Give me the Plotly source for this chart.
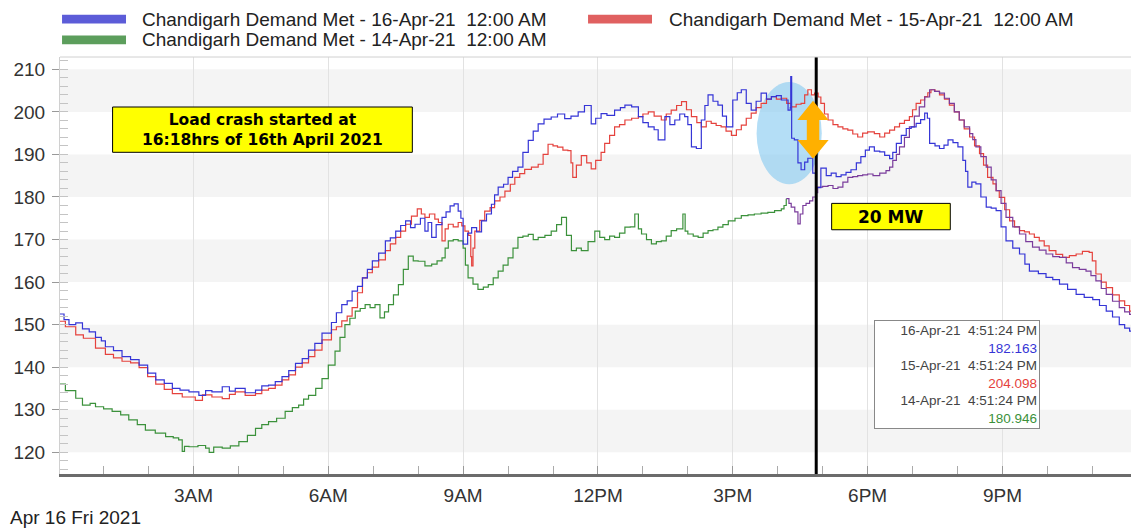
import pandas as pd
import plotly.graph_objects as go

DAY = pd.Timestamp('2021-04-16')

# hours after midnight
hours_16apr = [
    0.00, 0.12, 0.23, 0.38, 0.53, 0.68, 0.82, 0.95, 1.04, 1.22,
    1.41, 1.60, 1.79, 1.98, 2.16, 2.35, 2.53, 2.70, 2.90, 3.12,
    3.27, 3.41, 3.64, 3.80, 3.93, 4.15, 4.38, 4.52, 4.67, 4.82,
    4.97, 5.12, 5.27, 5.42, 5.56, 5.70, 5.86, 6.07, 6.18, 6.30,
    6.42, 6.53, 6.65, 6.76, 6.87, 6.98, 7.12, 7.27, 7.38, 7.50,
    7.61, 7.72, 7.83, 7.93, 8.05, 8.15, 8.22, 8.30, 8.40, 8.53,
    8.62, 8.71, 8.80, 8.89, 8.95, 9.00, 9.10, 9.19, 9.30, 9.41,
    9.52, 9.63, 9.70, 9.78, 9.90, 10.00, 10.10, 10.22, 10.33, 10.45,
    10.56, 10.67, 10.80, 10.96, 11.10, 11.26, 11.40, 11.56, 11.70, 11.85,
    11.95, 12.07, 12.20, 12.37, 12.50, 12.60, 12.75, 12.90, 13.00, 13.12,
    13.25, 13.34, 13.49, 13.60, 13.71, 13.82, 13.93, 14.00, 14.08, 14.19,
    14.30, 14.38, 14.45, 14.56, 14.67, 14.77, 14.86, 15.00, 15.10, 15.19,
    15.30, 15.41, 15.52, 15.63, 15.75, 15.86, 15.97, 16.08, 16.23, 16.28,
    16.29, 16.31, 16.37, 16.45, 16.52, 16.60, 16.67, 16.78, 16.85, 16.96,
    17.08, 17.19, 17.30, 17.41, 17.52, 17.63, 17.75, 17.85, 17.95, 18.04,
    18.15, 18.27, 18.38, 18.49, 18.56, 18.64, 18.75, 18.86, 18.97, 19.08,
    19.18, 19.27, 19.33, 19.38, 19.50, 19.60, 19.70, 19.79, 19.90, 20.01,
    20.12, 20.18, 20.23, 20.32, 20.41, 20.52, 20.64, 20.75, 20.86, 20.97,
    21.08, 21.23, 21.38, 21.50, 21.60, 21.80, 21.97, 22.12, 22.27, 22.45,
    22.64, 22.82, 23.01, 23.16, 23.31, 23.45, 23.60, 23.72, 23.83, 23.92,
    24.00,
]
demand_16apr = [
    152.5, 151.2, 150.0, 150.4, 149.0, 148.3, 147.0, 146.2, 144.8, 143.9,
    142.5, 141.8, 140.5, 138.6, 137.0, 136.2, 135.0, 134.6, 134.2, 133.4,
    134.5, 134.2, 135.4, 134.4, 135.0, 134.0, 134.6, 135.6, 135.8, 136.6,
    137.8, 139.2, 140.9, 142.0, 144.0, 145.6, 148.0, 150.5, 152.8, 154.7,
    155.6, 157.9, 159.0, 161.0, 163.0, 165.0, 166.8, 169.7, 170.4, 172.0,
    173.3, 174.4, 172.8, 173.6, 175.0, 172.0, 174.0, 170.5, 173.5, 175.2,
    176.5, 177.9, 178.4, 176.7, 175.0, 168.9, 171.5, 172.8, 171.8, 174.4,
    176.0, 178.3, 180.5, 182.3, 183.0, 184.6, 186.0, 187.0, 190.5, 193.3,
    195.5, 197.2, 198.3, 198.8, 199.5, 198.4, 199.0, 200.0, 201.5, 197.2,
    198.5, 199.6, 199.2, 200.4, 201.0, 201.6, 201.2, 198.9, 197.5, 196.5,
    195.8, 193.4, 198.9, 197.0, 198.1, 199.5, 198.9, 197.0, 191.8, 191.4,
    198.1, 201.5, 204.0, 202.5, 201.6, 199.0, 196.5, 202.8, 204.5, 205.2,
    202.0, 200.4, 202.5, 204.4, 203.0, 203.6, 203.8, 202.8, 200.4, 201.0,
    208.3, 193.8, 193.4, 188.0, 186.4, 188.2, 189.1, 185.6, 182.2, 186.8,
    185.0, 185.6, 184.8, 185.2, 185.8, 186.4, 188.0, 189.5, 191.0, 191.8,
    190.8, 190.6, 189.8, 189.0, 190.5, 192.6, 194.5, 196.1, 196.5, 197.3,
    198.2, 199.7, 198.5, 192.6, 192.0, 191.4, 192.2, 193.4, 192.8, 191.8,
    188.6, 186.0, 182.3, 183.5, 183.1, 180.0, 177.6, 177.4, 176.8, 173.0,
    169.7, 168.0, 166.6, 164.2, 162.6, 162.0, 161.1, 160.6, 159.5, 158.3,
    157.1, 156.4, 155.9, 154.5, 153.2, 151.8, 150.0, 149.2, 148.5, 146.5,
    144.5,
]

hours_15apr = [
    0.00, 0.15, 0.38, 0.55, 0.82, 1.04, 1.22, 1.41, 1.60, 1.79,
    1.98, 2.16, 2.35, 2.53, 2.75, 3.04, 3.20, 3.41, 3.64, 3.80,
    3.93, 4.15, 4.38, 4.52, 4.67, 4.82, 4.97, 5.12, 5.27, 5.42,
    5.56, 5.70, 5.86, 6.07, 6.18, 6.30, 6.42, 6.53, 6.65, 6.76,
    6.87, 6.98, 7.12, 7.27, 7.38, 7.50, 7.61, 7.72, 7.85, 7.98,
    8.07, 8.15, 8.25, 8.37, 8.45, 8.53, 8.60, 8.67, 8.78, 8.89,
    8.97, 9.04, 9.12, 9.17, 9.19, 9.22, 9.26, 9.37, 9.48, 9.60,
    9.70, 9.82, 9.93, 10.05, 10.15, 10.26, 10.37, 10.52, 10.67, 10.78,
    10.89, 11.00, 11.10, 11.22, 11.33, 11.40, 11.44, 11.52, 11.63, 11.75,
    11.85, 11.95, 12.07, 12.15, 12.26, 12.37, 12.48, 12.60, 12.75, 12.90,
    13.00, 13.12, 13.25, 13.41, 13.52, 13.63, 13.75, 13.86, 13.97, 14.08,
    14.20, 14.30, 14.41, 14.52, 14.63, 14.74, 14.85, 14.97, 15.08, 15.19,
    15.30, 15.41, 15.52, 15.63, 15.75, 15.86, 15.97, 16.08, 16.20, 16.30,
    16.41, 16.52, 16.60, 16.67, 16.75, 16.82, 16.90, 16.96, 17.04, 17.12,
    17.23, 17.34, 17.45, 17.56, 17.67, 17.78, 17.89, 18.00, 18.15, 18.27,
    18.38, 18.49, 18.60, 18.71, 18.82, 18.93, 19.00, 19.08, 19.18, 19.27,
    19.34, 19.41, 19.50, 19.60, 19.71, 19.82, 19.93, 20.04, 20.15, 20.27,
    20.38, 20.49, 20.58, 20.67, 20.79, 20.86, 20.93, 21.05, 21.16, 21.27,
    21.38, 21.49, 21.60, 21.71, 21.82, 21.93, 22.04, 22.19, 22.34, 22.49,
    22.64, 22.78, 22.93, 23.00, 23.08, 23.20, 23.31, 23.45, 23.60, 23.72,
    23.83, 23.92, 24.00,
]
demand_15apr = [
    150.8, 149.5, 147.6, 146.8, 144.5, 143.0, 142.2, 141.4, 141.0, 139.9,
    137.8, 136.0, 134.8, 133.8, 133.0, 132.2, 133.5, 133.0, 132.6, 133.6,
    134.2, 133.4, 133.8, 134.6, 135.0, 135.8, 137.0, 138.2, 140.0, 141.0,
    142.5, 144.0, 146.4, 148.8, 149.5, 150.9, 152.0, 154.0, 157.5, 161.0,
    162.2, 163.5, 165.2, 167.4, 169.0, 170.5, 172.0, 173.6, 175.5, 177.2,
    176.0, 175.2, 176.0, 174.8, 174.0, 169.7, 172.5, 173.6, 173.0, 174.0,
    173.2, 172.0, 171.0, 166.0, 163.8, 168.0, 172.0, 174.5, 176.7, 177.5,
    179.1, 180.0, 181.4, 183.0, 184.6, 185.5, 186.5, 187.0, 187.7, 190.0,
    192.4, 192.0, 191.7, 191.0, 190.9, 188.0, 184.6, 187.5, 189.7, 188.0,
    186.6, 188.6, 190.5, 192.6, 194.5, 196.5, 197.0, 198.1, 198.5, 198.9,
    199.5, 200.0, 199.0, 198.1, 199.5, 200.4, 201.5, 202.4, 200.5, 198.9,
    197.5, 196.5, 197.8, 197.3, 196.8, 196.5, 195.5, 194.5, 195.8, 196.9,
    198.5, 199.7, 201.0, 202.0, 203.0, 203.6, 203.0, 203.2, 202.0, 201.2,
    201.8, 202.0, 204.0, 205.2, 204.0, 204.4, 203.5, 202.0, 199.5, 198.1,
    197.0, 196.5, 196.0, 195.7, 194.8, 194.1, 195.0, 195.3, 194.9, 194.1,
    195.0, 195.7, 196.5, 197.3, 198.0, 198.9, 200.5, 202.0, 202.8, 203.6,
    204.5, 205.2, 204.8, 204.0, 203.0, 201.6, 200.0, 198.1, 196.0, 194.1,
    192.0, 190.2, 187.5, 184.6, 183.1, 181.5, 179.9, 177.0, 174.4, 173.0,
    172.1, 171.8, 171.3, 170.5, 169.7, 168.5, 167.4, 166.5, 165.8, 166.2,
    166.6, 167.2, 167.0, 165.0, 161.9, 160.0, 158.7, 157.0, 155.6, 154.5,
    153.2, 152.0, 151.5,
]

hours_14apr = [
    0.00, 0.15, 0.38, 0.53, 0.70, 0.82, 1.00, 1.19, 1.38, 1.56,
    1.75, 1.93, 2.15, 2.38, 2.55, 2.67, 2.75, 2.80, 2.90, 3.10,
    3.27, 3.35, 3.45, 3.64, 3.82, 4.01, 4.20, 4.38, 4.52, 4.67,
    4.85, 5.04, 5.20, 5.34, 5.45, 5.56, 5.72, 5.86, 6.00, 6.15,
    6.26, 6.37, 6.48, 6.60, 6.71, 6.82, 6.93, 7.04, 7.15, 7.25,
    7.34, 7.45, 7.56, 7.67, 7.78, 7.89, 8.00, 8.15, 8.30, 8.42,
    8.53, 8.60, 8.67, 8.78, 8.89, 9.00, 9.05, 9.11, 9.22, 9.33,
    9.45, 9.56, 9.67, 9.78, 9.89, 10.00, 10.11, 10.22, 10.33, 10.45,
    10.56, 10.67, 10.82, 10.96, 11.08, 11.19, 11.30, 11.41, 11.52, 11.63,
    11.78, 11.93, 12.04, 12.15, 12.26, 12.37, 12.48, 12.60, 12.72, 12.82,
    12.90, 12.97, 13.08, 13.19, 13.30, 13.41, 13.52, 13.63, 13.75, 13.89,
    13.94, 14.00, 14.12, 14.23, 14.34, 14.45, 14.56, 14.67, 14.78, 14.90,
    15.05, 15.19, 15.34, 15.48, 15.63, 15.78, 15.93, 16.08, 16.14, 16.19,
    16.25, 16.30, 16.38, 16.45, 16.50, 16.56, 16.63, 16.71, 16.78, 16.85,
    16.89, 17.00, 17.12, 17.23, 17.34, 17.45, 17.56, 17.67, 17.78, 17.89,
    18.00, 18.12, 18.27, 18.41, 18.49, 18.56, 18.64, 18.71, 18.82, 18.93,
    19.04, 19.15, 19.27, 19.38, 19.49, 19.60, 19.71, 19.82, 19.93, 20.04,
    20.15, 20.27, 20.34, 20.41, 20.52, 20.64, 20.75, 20.86, 20.97, 21.08,
    21.23, 21.38, 21.52, 21.67, 21.82, 21.97, 22.12, 22.27, 22.42, 22.56,
    22.71, 22.86, 22.97, 23.08, 23.20, 23.31, 23.45, 23.60, 23.72, 23.83,
    24.00,
]
demand_14apr = [
    136.0, 134.5, 132.7, 131.1, 131.5, 130.7, 130.2, 129.6, 128.8, 127.6,
    126.5, 125.2, 124.5, 123.7, 123.4, 122.9, 120.2, 121.4, 121.3, 121.6,
    121.0, 120.0, 121.2, 121.0, 121.5, 122.5, 124.0, 125.6, 126.5, 127.2,
    128.0, 129.6, 130.5, 131.1, 132.5, 133.4, 135.0, 137.3, 140.5, 143.8,
    147.0, 150.0, 151.5, 153.2, 153.8, 154.7, 154.0, 154.7, 151.6, 153.0,
    154.7, 157.0, 159.4, 163.0, 166.1, 165.0, 164.9, 163.8, 164.2, 165.0,
    165.7, 168.0, 169.7, 170.0, 169.7, 168.0, 164.0, 161.0, 159.5, 158.3,
    158.8, 159.4, 161.0, 162.6, 164.0, 165.7, 168.0, 170.5, 170.8, 171.2,
    170.0, 170.5, 171.0, 172.0, 173.5, 175.2, 171.0, 167.4, 168.0, 167.4,
    169.5, 172.0, 170.5, 170.0, 170.8, 170.5, 171.5, 172.9, 173.0, 176.0,
    172.5, 171.3, 170.0, 169.0, 169.5, 169.7, 170.8, 172.1, 172.5, 176.0,
    172.0, 171.3, 170.8, 170.5, 171.5, 172.1, 172.3, 172.9, 173.5, 174.4,
    175.0, 175.6, 175.8, 176.0, 176.2, 176.4, 176.8, 177.2, 178.0, 179.6,
    178.5, 177.6, 176.5, 173.7, 176.0, 178.0, 178.5, 179.1, 180.0, 181.0,
    182.3, 182.5, 182.7, 182.0, 182.3, 183.5, 184.6, 184.8, 185.0, 185.2,
    185.4, 185.0, 185.6, 186.2, 187.0, 188.6, 190.0, 191.8, 194.0, 196.5,
    199.0, 201.2, 203.5, 205.2, 204.8, 204.4, 203.2, 202.0, 200.0, 198.1,
    196.5, 194.9, 193.5, 191.8, 189.5, 187.0, 184.0, 181.5, 178.5, 175.2,
    173.0, 171.3, 169.5, 168.2, 167.5, 166.6, 166.0, 165.8, 164.5, 163.4,
    163.0, 162.6, 161.5, 160.3, 158.5, 157.1, 155.5, 154.0, 153.0, 152.4,
    150.4,
]
purple_from = 16.19  # the 14-Apr line is drawn purple after this hour

names = [
    'Chandigarh Demand Met - 16-Apr-21\u00a0\u00a012:00 AM',
    'Chandigarh Demand Met - 15-Apr-21\u00a0\u00a012:00 AM',
    'Chandigarh Demand Met - 14-Apr-21\u00a0\u00a012:00 AM',
]
cursor_hour = 16 + 51 / 60 + 24 / 3600
cursor_dates = ['16-Apr-21', '15-Apr-21', '14-Apr-21']
cursor_values = [182.163, 204.098, 180.946]

assert len(hours_16apr) == len(demand_16apr)
assert len(hours_15apr) == len(demand_15apr)
assert len(hours_14apr) == len(demand_14apr)


def t(hours):
    return DAY + pd.to_timedelta(hours, unit='h')


BLUE = '#3535d6'
RED = '#e5423d'
GREEN = '#3b913b'
PURPLE = '#7a3c9c'
LW = 1.2

fig = go.Figure()

fig.add_trace(go.Scatter(x=t(hours_15apr), y=demand_15apr, mode='lines', line_shape='hv',
                         line=dict(color=RED, width=LW), name=names[1]))
green_h = [h for h in hours_14apr if h <= purple_from]
green_v = demand_14apr[:len(green_h)]
purple_h = hours_14apr[len(green_h) - 1:]
purple_v = demand_14apr[len(green_h) - 1:]
fig.add_trace(go.Scatter(x=t(green_h), y=green_v, mode='lines', line_shape='hv',
                         line=dict(color=GREEN, width=LW), name=names[2]))
fig.add_trace(go.Scatter(x=t(purple_h), y=purple_v, mode='lines', line_shape='hv',
                         line=dict(color=PURPLE, width=LW), showlegend=False))
fig.add_trace(go.Scatter(x=t(hours_16apr), y=demand_16apr, mode='lines', line_shape='hv',
                         line=dict(color=BLUE, width=LW), name=names[0]))

shapes = []
# alternating background bands
for lo in [120, 140, 160, 180, 200]:
    shapes.append(dict(type='rect', xref='paper', yref='y', x0=0, x1=1, y0=lo, y1=lo + 10,
                       fillcolor='#f4f4f4', line_width=0, layer='below'))
# highlight ellipse around the crash
shapes.append(dict(type='circle', xref='x', yref='y', x0=t(15.53), x1=t(16.98), y0=183.0, y1=207.0,
                   fillcolor='rgba(130,200,240,0.6)', line_width=0, layer='between'))
# cursor line
shapes.append(dict(type='line', xref='x', yref='paper', x0=t(cursor_hour), x1=t(cursor_hour), y0=0, y1=1,
                   line=dict(color='black', width=3)))
# borders
shapes.append(dict(type='line', xref='paper', yref='paper', x0=0, x1=1, y0=1, y1=1,
                   line=dict(color='#d0d0d0', width=1)))
shapes.append(dict(type='line', xref='paper', yref='paper', x0=1, x1=1, y0=0, y1=1,
                   line=dict(color='#6b6b6b', width=2)))
# yellow text boxes
shapes.append(dict(type='rect', xref='x', yref='y', x0=t(1.2), x1=t(7.87), y0=190.5, y1=201.15,
                   fillcolor='#ffff00', line=dict(color='black', width=1)))
shapes.append(dict(type='rect', xref='x', yref='y', x0=t(17.2), x1=t(19.84), y0=172.3, y1=178.5,
                   fillcolor='#ffff00', line=dict(color='black', width=1)))
# orange double arrow (x in paper units, y in data units)
ax, sw, hw = 0.7005, 0.0058, 0.0145
y_top, y_hb1, y_hb2, y_bot = 202.6, 198.1, 193.4, 189.0
arrow = (f'M {ax} {y_top} L {ax + hw} {y_hb1} L {ax + sw} {y_hb1} L {ax + sw} {y_hb2} '
         f'L {ax + hw} {y_hb2} L {ax} {y_bot} L {ax - hw} {y_hb2} L {ax - sw} {y_hb2} '
         f'L {ax - sw} {y_hb1} L {ax - hw} {y_hb1} Z')
shapes.append(dict(type='path', xref='paper', yref='y', path=arrow,
                   fillcolor='#ffb000', line_width=0))

# legend drawn by hand (wide swatches)
legend_rows = [(0, 0.0019, 0.0744, 1.0911), (1, 0.4912, 0.5647, 1.0911), (2, 0.0019, 0.0744, 1.0408)]
swatch = ['#5c5cd8', '#e06060', '#5c9e5c']
annotations = []
for i, x0, xt, yc in legend_rows:
    shapes.append(dict(type='rect', xref='paper', yref='paper', x0=x0, x1=x0 + 0.0595,
                       y0=yc - 0.0105, y1=yc + 0.0105, fillcolor=swatch[i], line_width=0))
    annotations.append(dict(xref='paper', yref='paper', x=xt, y=yc, xanchor='left', yanchor='middle',
                            text=names[i], showarrow=False, font=dict(size=19, color='#222')))

annotations.append(dict(xref='x', yref='y', x=t(4.53), y=195.8, showarrow=False,
                        text='Load crash started at<br>16:18hrs of 16th April 2021',
                        font=dict(family='DejaVu Sans', size=15.5, color='black', weight='bold')))
annotations.append(dict(xref='x', yref='y', x=t(18.52), y=175.4, showarrow=False, text='20 MW',
                        font=dict(family='DejaVu Sans', size=17, color='black', weight='bold')))

tip_colors = [BLUE, RED, GREEN]
tip_lines = []
for d, v, c in zip(cursor_dates, cursor_values, tip_colors):
    tip_lines.append(f'{d}\u00a0\u00a04:51:24 PM')
    tip_lines.append(f"<span style='color:{c}'>{v:.3f}</span>")
annotations.append(dict(xref='paper', yref='paper', x=0.757, y=0.369, xanchor='left', yanchor='top',
                        text='<br>'.join(tip_lines), showarrow=False, align='right', width=160,
                        bgcolor='white', bordercolor='#888', borderwidth=1, borderpad=2,
                        font=dict(size=13.5, color='#444')))
annotations.append(dict(xref='paper', yref='paper', x=-0.0484, y=-0.1055, xanchor='left', yanchor='middle',
                        text='Apr 16 Fri 2021', showarrow=False, font=dict(size=19, color='#222')))

# the page body adds an 8px offset, so the figure is 8px smaller and shifted margins keep
# the plot area where the reference has it
fig.update_layout(
    width=1131, height=523,
    margin=dict(l=52, r=4, t=49, b=57),
    plot_bgcolor='white', paper_bgcolor='white',
    showlegend=False,
    font=dict(family='Liberation Sans, Arial, sans-serif', color='#333'),
    shapes=shapes, annotations=annotations,
)
fig.update_xaxes(
    type='date', range=[t(0.03), t(23.95)],
    tick0=DAY, dtick=3 * 3600 * 1000, tickformat='%-I%p',
    showgrid=True, gridcolor='#e2e2e2', zeroline=False,
    ticks='inside', ticklen=8, tickcolor='#999',
    showline=True, linecolor='#6b6b6b', linewidth=3,
    tickfont=dict(size=19, color='#333'), ticklabelstandoff=2,
    minor=dict(dtick=3600 * 1000, ticks='inside', ticklen=8, tickcolor='#aaa', showgrid=False),
)
fig.update_yaxes(
    range=[114.9, 212.9], tick0=0, dtick=10,
    showgrid=False, zeroline=False,
    ticks='outside', ticklen=7, tickcolor='#999',
    showline=True, linecolor='#d0d0d0', linewidth=1,
    tickfont=dict(size=19, color='#333'), ticklabelstandoff=3,
    minor=dict(dtick=2, ticks='inside', ticklen=8, tickcolor='#c4c4c4'),
)

fig.write_html('out.html')
